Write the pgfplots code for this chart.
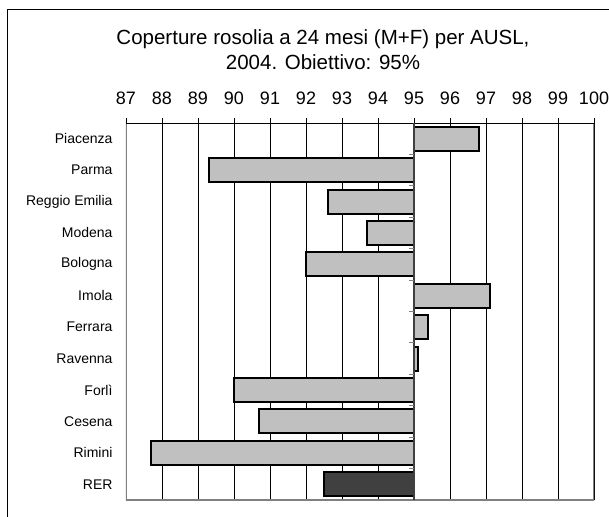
\documentclass[border=0pt]{standalone}
\usepackage{fontspec}
\setmainfont{Liberation Sans}
\usepackage{pgfplots}
\usepackage{pgfplotstable}
\pgfplotsset{compat=1.18}

\definecolor{barfill}{HTML}{C0C0C0}
\definecolor{rerfill}{HTML}{404040}
\definecolor{boxgray}{HTML}{808080}

% coperture rosolia 24 mesi, 2004 (idx 11 = top row)
\pgfplotstableread[col sep=comma]{
idx,name,cov
11,Piacenza,96.8
10,Parma,89.3
9,Reggio Emilia,92.6
8,Modena,93.7
7,Bologna,92.0
6,Imola,97.1
5,Ferrara,95.4
4,Ravenna,95.1
3,Forlì,90.0
2,Cesena,90.7
1,Rimini,87.7
}\ausl
\pgfplotstableread[col sep=comma]{
idx,name,cov
0,RER,92.5
}\rer

\begin{document}
\begin{tikzpicture}
\useasboundingbox (-126pt,-16pt) rectangle (483pt,500pt);
\begin{axis}[
    scale only axis,
    width=468pt, height=377pt,
    at={(0,0)}, anchor=south west,
    xbar, bar width=24pt, bar shift=0pt,
    xmin=-8, xmax=5, ymin=-0.5, ymax=11.5,
    xtick={-8,...,5},
    xticklabels={87,88,89,90,91,92,93,94,95,96,97,98,99,100},
    xtick pos=upper, xticklabel pos=upper, xtick align=outside,
    major tick length=5pt,
    xtick style={black, line width=0.8pt},
    ytick={0,...,11},
    yticklabels={RER,Rimini,Cesena,Forlì,Ravenna,Ferrara,Imola,Bologna,Modena,Reggio Emilia,Parma,Piacenza},
    ytick style={draw=none},
    xmajorgrids, grid style={black, line width=0.7pt},
    axis line style={draw=none},
    xticklabel style={font=\fontsize{18}{20}\selectfont, anchor=base, yshift=13pt},
    yticklabel style={font=\fontsize{14}{16}\selectfont, xshift=-5pt},
]
\addplot[fill=barfill, draw=black, line width=2pt] table[x expr=\thisrow{cov}-95, y=idx]{\ausl};
\addplot[fill=rerfill, draw=black, line width=2pt] table[x expr=\thisrow{cov}-95, y=idx]{\rer};
\draw[boxgray, line width=1.8pt] (rel axis cs:0,1) -- (rel axis cs:0,0) -- (rel axis cs:1,0) -- (rel axis cs:1,1);
\draw[black, line width=0.8pt] (rel axis cs:0,1) -- (rel axis cs:1,1);
\draw[black!75, line width=1.6pt] (axis cs:0,-0.5) -- (axis cs:0,11.5);
\pgfplotsinvokeforeach{0.5,1.5,...,10.5}{
  \draw[boxgray, line width=1pt] (axis cs:0,#1) -- ++(-5pt,0pt);
}
\end{axis}
\draw[black, line width=1pt] (-118pt,-30pt) -- (-118pt,490pt) -- (500pt,490pt);
\node[font=\fontsize{20.5}{24}\selectfont, anchor=base] at (197pt,455pt) {Coperture rosolia a 24 mesi (M+F) per AUSL,};
\node[font=\fontsize{20.5}{24}\selectfont, anchor=base] at (197pt,430pt) {2004. Obiettivo: 95\%};
\end{tikzpicture}
\end{document}
